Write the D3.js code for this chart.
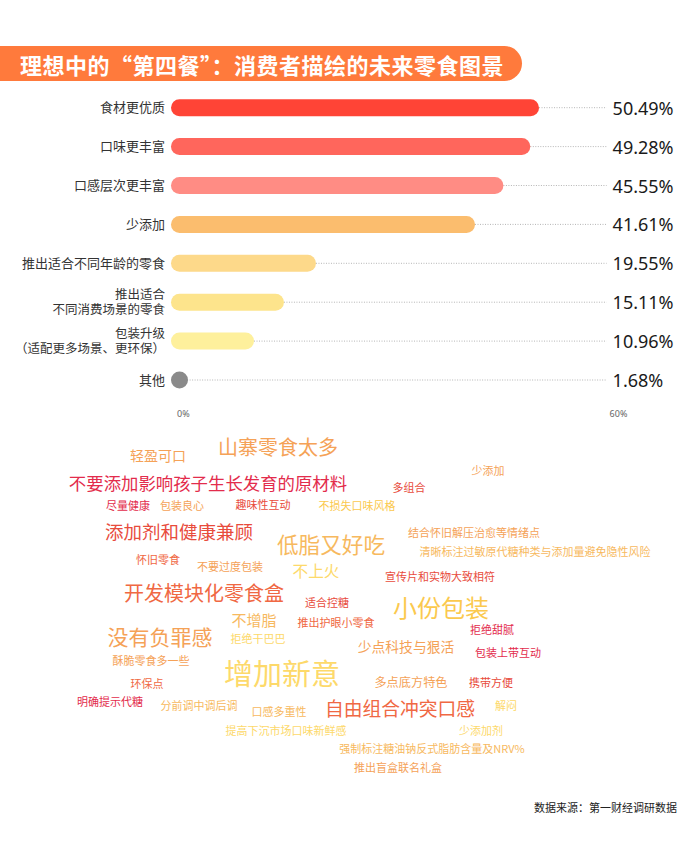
<!DOCTYPE html>
<html>
<head>
<meta charset="utf-8">
<script src="https://cdn.jsdelivr.net/npm/d3@7"></script>
<style>
    body { margin: 0; background: #fff; }
    svg { display: block; font-family: "Noto Sans CJK SC", "Noto Sans", sans-serif; }
</style>
</head>
<body>
<div id="chart"></div>
<script>
const WIDTH = 700;
const HEIGHT = 852;

// ── Bar chart data ──
const categories = [
    "食材更优质",
    "口味更丰富",
    "口感层次更丰富",
    "少添加",
    "推出适合不同年龄的零食",
    "推出适合\n不同消费场景的零食",
    "包装升级\n（适配更多场景、更环保）",
    "其他",
];
const shares = [50.49, 49.28, 45.55, 41.61, 19.55, 15.11, 10.96, 1.68];
const barColors = ["#ff4436", "#ff665c", "#ff8c84", "#fbbd6e", "#fdd98a", "#fde48c", "#fef09c", "#8a8a8a"];
const axisTicks = [0, 60];

// ── Word cloud data ──
const words = [
    "轻盈可口", "山寨零食太多", "少添加", "不要添加影响孩子生长发育的原材料", "多组合",
    "尽量健康", "包装良心", "趣味性互动", "不损失口味风格", "添加剂和健康兼顾",
    "低脂又好吃", "结合怀旧解压治愈等情绪点", "清晰标注过敏原代糖种类与添加量避免隐性风险", "怀旧零食", "不要过度包装",
    "不上火", "宣传片和实物大致相符", "开发模块化零食盒", "适合控糖", "小份包装",
    "不增脂", "推出护眼小零食", "没有负罪感", "拒绝干巴巴", "拒绝甜腻",
    "少点科技与狠活", "包装上带互动", "酥脆零食多一些", "增加新意", "环保点",
    "多点底方特色", "携带方便", "明确提示代糖", "分前调中调后调", "口感多重性",
    "自由组合冲突口感", "解闷", "提高下沉市场口味新鲜感", "少添加剂", "强制标注糖油钠反式脂肪含量及NRV%",
    "推出盲盒联名礼盒",
];
const wordWeights = [
    2.5, 5.5, 1, 4.2, 1,
    1, 1, 1, 1, 4.75,
    6.3, 1, 1, 1, 1,
    3.3, 1, 5.5, 1, 7.5,
    3, 1, 6, 1, 1,
    2.4, 1, 1, 10, 1,
    1.6, 1, 1, 1, 1,
    4.9, 1, 1, 1, 1,
    1,
];

// ── Word cloud layout (centre of each word) and tone index ──
const wordPlacement = [
    [158, 455], [278, 446], [488, 470], [208, 482], [409, 487],
    [128, 505], [182, 505], [263, 504], [357, 505], [179, 531],
    [331, 543], [474, 532], [535, 551], [158, 559], [230, 566],
    [316, 570], [440, 576], [204, 592], [327, 602], [441, 606],
    [254, 619], [336, 622], [160, 636], [258, 638], [492, 629],
    [406, 646], [508, 652], [151, 660], [282, 672], [147, 683],
    [411, 682], [491, 682], [110, 701], [199, 705], [279, 711],
    [400, 707], [506, 705], [286, 730], [481, 730], [432, 748],
    [398, 767],
];
const tonePalette = ["#e32c4c", "#e84b3c", "#f06843", "#f5a257", "#f7b95e", "#fbc94e", "#fdd96a"];
const wordTones = [
    3, 3, 3, 0, 1,
    0, 3, 1, 5, 1,
    4, 3, 4, 2, 3,
    6, 1, 2, 1, 5,
    4, 2, 3, 6, 0,
    3, 0, 3, 6, 2,
    3, 1, 0, 4, 4,
    2, 6, 6, 6, 4,
    3,
];

const svg = d3.select("#chart")
    .append("svg")
    .attr("width", WIDTH)
    .attr("height", HEIGHT)
    .attr("viewBox", `0 0 ${WIDTH} ${HEIGHT}`);

// ── Title banner ──
svg.append("rect")
    .attr("x", -30)
    .attr("y", 46)
    .attr("width", 552)
    .attr("height", 35)
    .attr("rx", 17.5)
    .attr("fill", "#ff7a3c");

svg.append("text")
    .attr("x", 20)
    .attr("y", 63.5)
    .attr("dominant-baseline", "central")
    .attr("font-size", 22)
    .attr("font-weight", "bold")
    .attr("letter-spacing", 0.5)
    .attr("fill", "#fff")
    .text("理想中的“第四餐”：消费者描绘的未来零食图景");

// ── Scales ──
const x = d3.scaleLinear().domain([0, 60]).range([175, 607.6]);
const y = d3.scalePoint().domain(categories).range([107.7, 380]);
const BAR_H = 17;
const barLeft = x(0) - 4;

const rows = svg.append("g")
    .selectAll("g.row")
    .data(categories.map((c, i) => ({ c, v: shares[i], color: barColors[i] })))
    .enter()
    .append("g")
    .attr("class", "row")
    .attr("transform", d => `translate(0, ${y(d.c)})`);

// dotted leader line to the value label
rows.append("line")
    .attr("x1", d => x(d.v))
    .attr("x2", x(60) - 1)
    .attr("stroke", "#b5b5b5")
    .attr("stroke-width", 1)
    .attr("stroke-dasharray", "1,1.5");

rows.append("rect")
    .attr("x", barLeft)
    .attr("y", -BAR_H / 2)
    .attr("width", d => Math.max(BAR_H, x(d.v) - barLeft))
    .attr("height", BAR_H)
    .attr("rx", BAR_H / 2)
    .attr("fill", d => d.color);

rows.append("text")
    .attr("x", x(60) + 5)
    .attr("dominant-baseline", "central")
    .attr("font-family", "'Noto Sans', sans-serif")
    .attr("font-size", 18)
    .attr("fill", "#1a1a1a")
    .text(d => d.v.toFixed(2) + "%");

// category labels: one text per line so wrapped labels stay separate
const LINE_H = 15;
rows.each(function (d) {
    const lines = d.c.split("\n");
    d3.select(this).selectAll("text.cat")
        .data(lines)
        .enter()
        .append("text")
        .attr("class", "cat")
        .attr("x", 165)
        .attr("y", (line, k) => (k - (lines.length - 1) / 2) * LINE_H + 4.5)
        .attr("text-anchor", "end")
        .attr("font-family", "'Liberation Sans', 'Noto Sans CJK SC', sans-serif")
        .attr("font-size", lines.length > 1 ? 12.5 : 13)
        .attr("fill", "#333")
        .text(line => line);
});

// ── Axis tick labels ──
svg.append("g")
    .selectAll("text")
    .data(axisTicks)
    .enter()
    .append("text")
    .attr("x", d => x(d) + 2)
    .attr("y", 413)
    .attr("dominant-baseline", "central")
    .attr("font-family", "'Noto Sans', sans-serif")
    .attr("font-size", 9)
    .attr("fill", "#666")
    .text(d => d + "%");

// ── Word cloud ──
const fontSize = d3.scaleLinear().domain([1, 10]).range([11, 29]);

svg.append("g")
    .attr("class", "cloud")
    .selectAll("text")
    .data(words.map((w, i) => ({ w, weight: wordWeights[i], pos: wordPlacement[i], tone: wordTones[i] })))
    .enter()
    .append("text")
    .attr("x", d => d.pos[0])
    .attr("y", d => d.pos[1])
    .attr("text-anchor", "middle")
    .attr("dominant-baseline", "central")
    .attr("font-size", d => fontSize(d.weight))
    .attr("fill", d => tonePalette[d.tone])
    .text(d => d.w);

// ── Source note ──
svg.append("text")
    .attr("x", 677)
    .attr("y", 807)
    .attr("text-anchor", "end")
    .attr("dominant-baseline", "central")
    .attr("font-size", 11)
    .attr("fill", "#222")
    .text("数据来源：第一财经调研数据");
</script>
</body>
</html>
